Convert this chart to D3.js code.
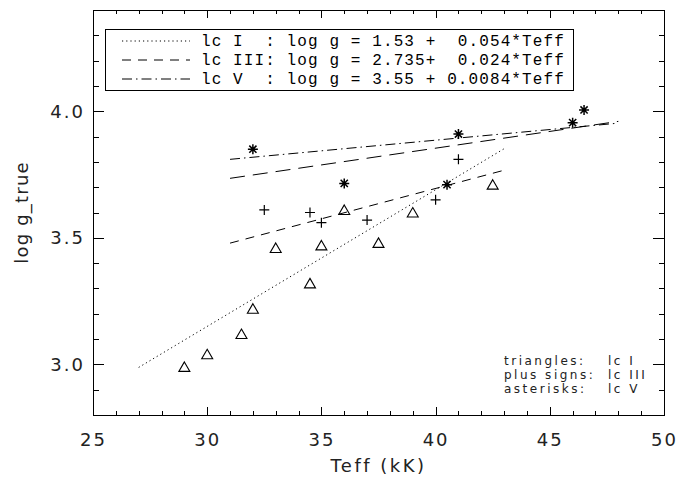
<!DOCTYPE html>
<html>
<head>
<meta charset="utf-8">
<script src="https://cdn.jsdelivr.net/npm/d3@7"></script>
<style>
body { margin: 0; background: #fff; }
svg text { font-family: "DejaVu Sans", sans-serif; fill: #222; }
.mono { font-family: "Courier New", "Liberation Mono", monospace; white-space: pre; fill: #000; }
</style>
</head>
<body>
<div id="chart"></div>
<script>
// values: Teff (kK) vs log g_true
var triTeff = [29, 30, 31.5, 32, 33, 34.5, 35, 36, 37.5, 39, 42.5];
var triLogg = [2.99, 3.04, 3.12, 3.22, 3.46, 3.32, 3.47, 3.61, 3.48, 3.60, 3.71];
var plusTeff = [32.5, 34.5, 35, 37, 40, 41];
var plusLogg = [3.61, 3.60, 3.56, 3.57, 3.65, 3.81];
var astTeff = [32, 36, 40.5, 41, 46, 46.5];
var astLogg = [3.85, 3.715, 3.71, 3.91, 3.955, 4.005];

// fitted lines, start and end points
var fitNames = ["lcI", "lcIII", "lcV", "all"];
var fitTeff = [[27, 43], [31, 43], [31, 48], [31, 48]];
var fitLogg = [[2.988, 3.852], [3.479, 3.767], [3.810, 3.953], [3.735, 3.96]];

var legendNames = ["lcI", "lcIII", "lcV"];
var legendLabels = [
  "lc I  : log g = 1.53 +  0.054*Teff",
  "lc III: log g = 2.735+  0.024*Teff",
  "lc V  : log g = 3.55 + 0.0084*Teff"
];
var noteLabels = ["triangles:", "plus signs:", "asterisks:"];
var noteClasses = ["lc I", "lc III", "lc V"];

var xTicks = [25, 30, 35, 40, 45, 50];
var yTicks = [3.0, 3.5, 4.0];

// line styles
var dashes = { lcI: "1.2,3", lcIII: "9,7", lcV: "10,4,1.5,4", all: "15,8" };

var svgWidth = 686;
var svgHeight = 481;
var margin = {top: 10, right: 22, bottom: 66, left: 93};
var width = svgWidth - margin.left - margin.right;
var height = svgHeight - margin.top - margin.bottom;

var svg = d3.select("#chart")
  .append("svg")
  .attr("width", svgWidth)
  .attr("height", svgHeight);

svg.append("rect").attr("width", svgWidth).attr("height", svgHeight).attr("fill", "#fff");

var chartGroup = svg.append("g")
  .attr("transform", `translate(${margin.left}, ${margin.top})`);

var x = d3.scaleLinear().domain([25, 50]).range([0, width]);
var y = d3.scaleLinear().domain([2.8, 4.4]).range([height, 0]);

var xMinor = d3.range(25, 51, 1);
var yMinor = d3.range(28, 45, 1).map(function(v) { return v / 10; });

// axes, IDL style: ticks pointing in on all four sides
function styleAxis(g) {
  g.select(".domain").remove();
  g.selectAll("line").attr("stroke", "#000").attr("shape-rendering", "crispEdges");
  g.selectAll("text").attr("font-family", "DejaVu Sans, sans-serif")
    .attr("font-size", 18).attr("letter-spacing", 2).attr("fill", "#222");
}

chartGroup.append("g").attr("transform", `translate(0, ${height})`)
  .call(d3.axisBottom(x).tickValues(xTicks).tickSize(-8).tickPadding(18).tickFormat(d3.format("d")))
  .call(styleAxis);
chartGroup.append("g").attr("transform", `translate(0, ${height})`)
  .call(d3.axisBottom(x).tickValues(xMinor).tickSize(-4).tickFormat(""))
  .call(styleAxis);
chartGroup.append("g")
  .call(d3.axisTop(x).tickValues(xTicks).tickSize(-8).tickFormat(""))
  .call(styleAxis);
chartGroup.append("g")
  .call(d3.axisTop(x).tickValues(xMinor).tickSize(-4).tickFormat(""))
  .call(styleAxis);

chartGroup.append("g")
  .call(d3.axisLeft(y).tickValues(yTicks).tickSize(-11).tickPadding(8).tickFormat(d3.format(".1f")))
  .call(styleAxis);
chartGroup.append("g")
  .call(d3.axisLeft(y).tickValues(yMinor).tickSize(-5.5).tickFormat(""))
  .call(styleAxis);
chartGroup.append("g").attr("transform", `translate(${width}, 0)`)
  .call(d3.axisRight(y).tickValues(yTicks).tickSize(-11).tickFormat(""))
  .call(styleAxis);
chartGroup.append("g").attr("transform", `translate(${width}, 0)`)
  .call(d3.axisRight(y).tickValues(yMinor).tickSize(-5.5).tickFormat(""))
  .call(styleAxis);

// frame
chartGroup.append("rect")
  .attr("width", width).attr("height", height)
  .attr("fill", "none").attr("stroke", "#000").attr("shape-rendering", "crispEdges");

// fit lines
fitNames.forEach(function(name, i) {
  chartGroup.append("line")
    .attr("x1", x(fitTeff[i][0])).attr("y1", y(fitLogg[i][0]))
    .attr("x2", x(fitTeff[i][1])).attr("y2", y(fitLogg[i][1]))
    .attr("stroke", "#000")
    .attr("stroke-width", 1)
    .attr("stroke-dasharray", dashes[name]);
});

// symbols
var triPath = "M0,-5L5.5,4.5L-5.5,4.5Z";
var plusPath = "M-5,0H5M0,-5V5";
var astPath = "M-5,0H5M0,-5V5M-3.6,-3.6L3.6,3.6M-3.6,3.6L3.6,-3.6";

function drawSymbols(ts, gs, path, sw) {
  chartGroup.append("g").selectAll("path")
    .data(ts)
    .enter()
    .append("path")
    .attr("transform", function(d, i) { return `translate(${x(d)}, ${y(gs[i])})`; })
    .attr("d", path)
    .attr("fill", "none")
    .attr("stroke", "#000")
    .attr("stroke-width", sw);
}
drawSymbols(triTeff, triLogg, triPath, 1.1);
drawSymbols(plusTeff, plusLogg, plusPath, 1.2);
drawSymbols(astTeff, astLogg, astPath, 1.5);

// legend box
var legend = chartGroup.append("g").attr("transform", "translate(12, 19)");
legend.append("rect")
  .attr("width", 468).attr("height", 61)
  .attr("fill", "#fff").attr("stroke", "#000").attr("shape-rendering", "crispEdges");
legendNames.forEach(function(name, i) {
  var ly = 12 + i * 19;
  legend.append("line")
    .attr("x1", 17).attr("x2", 85).attr("y1", ly).attr("y2", ly)
    .attr("stroke", "#000").attr("stroke-dasharray", dashes[name]);
  legend.append("text")
    .attr("class", "mono")
    .attr("x", 96).attr("y", ly + 5)
    .attr("font-size", 16)
    .attr("letter-spacing", 1.1)
    .text(legendLabels[i]);
});

// note in the lower right
noteLabels.forEach(function(label, i) {
  var ny = 355 + i * 14;
  chartGroup.append("text")
    .attr("x", 411).attr("y", ny)
    .attr("font-size", 12).attr("letter-spacing", 2.5)
    .text(label);
  chartGroup.append("text")
    .attr("x", 515).attr("y", ny)
    .attr("font-size", 12).attr("letter-spacing", 2.5)
    .text(noteClasses[i]);
});

// axis labels
chartGroup.append("text")
  .attr("x", width / 2).attr("y", height + 57)
  .attr("text-anchor", "middle")
  .attr("font-size", 18).attr("letter-spacing", 2.5)
  .text("Teff (kK)");

chartGroup.append("text")
  .attr("transform", "rotate(-90)")
  .attr("x", -height / 2).attr("y", 28 - margin.left)
  .attr("text-anchor", "middle")
  .attr("font-size", 18).attr("letter-spacing", 1.2)
  .text("log g_true");
</script>
</body>
</html>
